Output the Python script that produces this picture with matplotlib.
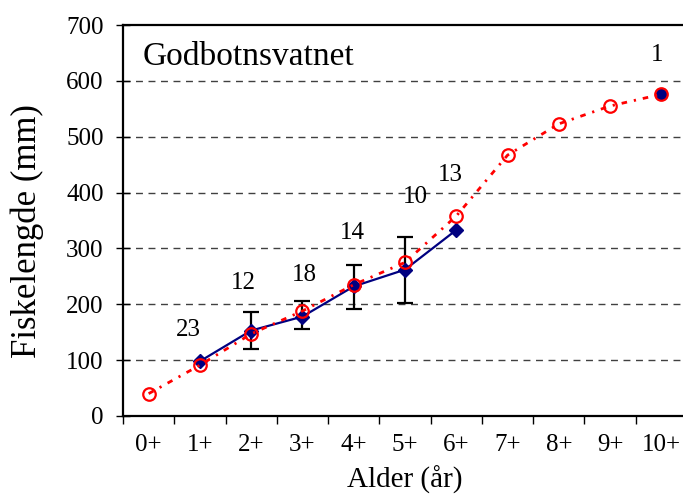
import matplotlib
matplotlib.use("Agg")
import matplotlib.pyplot as plt
import numpy as np

# Age classes
ages = ["0+", "1+", "2+", "3+", "4+", "5+", "6+", "7+", "8+", "9+", "10+"]

# Mean measured length per age class (mm); None where no fish were caught
measured = [None, 98, 153, 178, 232, 262, 333, None, None, None, 576]
# Error bar ends for the measured means (mm)
err_upper = [None, None, 187, 206, 271, 320, None, None, None, None, None]
err_lower = [None, None, 120, 156, 191, 203, None, None, None, None, None]

# Back-calculated length per age class (mm)
backcalc = [40, 91, 147, 188, 235, 275, 358, 467, 523, 555, 576]

# Number of fish per age class
counts = ["23", "12", "18", "14", "10", "13", "1"]
count_at = [(0.78, 154), (1.84, 239), (3.03, 252), (3.97, 328),
            (5.2, 392), (5.88, 431), (9.92, 646)]

plt.rcParams["font.family"] = ["Liberation Serif", "DejaVu Serif"]

fig = plt.figure(figsize=(6.83, 4.95), dpi=100)
ax = fig.add_axes([123 / 683, 1 - 416 / 495, 564 / 683, 391 / 495])

x = np.arange(len(ages))

# horizontal dashed grid
for yv in range(100, 700, 100):
    ax.axhline(yv, color="#404040", lw=1.0, ls=(0, (5, 4)), zorder=0)

# measured series: connected part 1+..6+, lone point at 10+
mx = [i for i in range(1, 7)]
my = [measured[i] for i in mx]
ax.plot(mx, my, color="#000080", lw=1.6, marker="D", ms=7,
        mfc="#000080", mec="#000080", zorder=3)
ax.plot([10], [measured[10]], color="#000080", marker="o", ms=8,
        mfc="#000080", mec="#000080", ls="none", zorder=3)

# error bars
ex, ey, elo, ehi = [], [], [], []
for i in range(len(ages)):
    if err_upper[i] is not None:
        ex.append(i)
        ey.append(measured[i])
        elo.append(measured[i] - err_lower[i])
        ehi.append(err_upper[i] - measured[i])
ax.errorbar(ex, ey, yerr=[elo, ehi], fmt="none", ecolor="black",
            elinewidth=1.6, capsize=6, capthick=1.6, zorder=2)

# back-calculated series
ax.plot(x, backcalc, color="#FF0000", lw=2.0, ls=(0, (2, 2.5, 0.8, 2.5)),
        marker="o", ms=9, mfc="none", mec="#FF0000", mew=1.6, zorder=4)

# sample sizes
for txt, (tx, ty) in zip(counts, count_at):
    ax.text(tx, ty, txt, ha="center", va="center", fontsize=18, zorder=5)

ax.text(0.035, 0.918, "Godbotnsvatnet", transform=ax.transAxes,
        ha="left", va="center", fontsize=24)

ax.set_xlim(-0.5, len(ages) - 0.5)
ax.set_ylim(0, 700)
ax.set_yticks(range(0, 701, 100))
ax.set_xticks(x)
ax.set_xticklabels(ages)
ax.set_xticks(np.arange(-0.5, len(ages), 1.0), minor=True)
ax.tick_params(axis="x", which="major", length=0, labelsize=18, pad=13)
ax.tick_params(axis="x", which="minor", length=6, width=1.0, direction="out")
ax.tick_params(axis="y", length=10, width=1.0, direction="inout", labelsize=18, pad=9)

for s in ax.spines.values():
    s.set_linewidth(1.6)
    s.set_color("black")

ax.set_xlabel("Alder (år)", fontsize=21, labelpad=7)
ax.set_ylabel("Fiskelengde (mm)", fontsize=25)
ax.yaxis.set_label_coords(-0.14, 0.473)

fig.savefig("out.png", dpi=100)
